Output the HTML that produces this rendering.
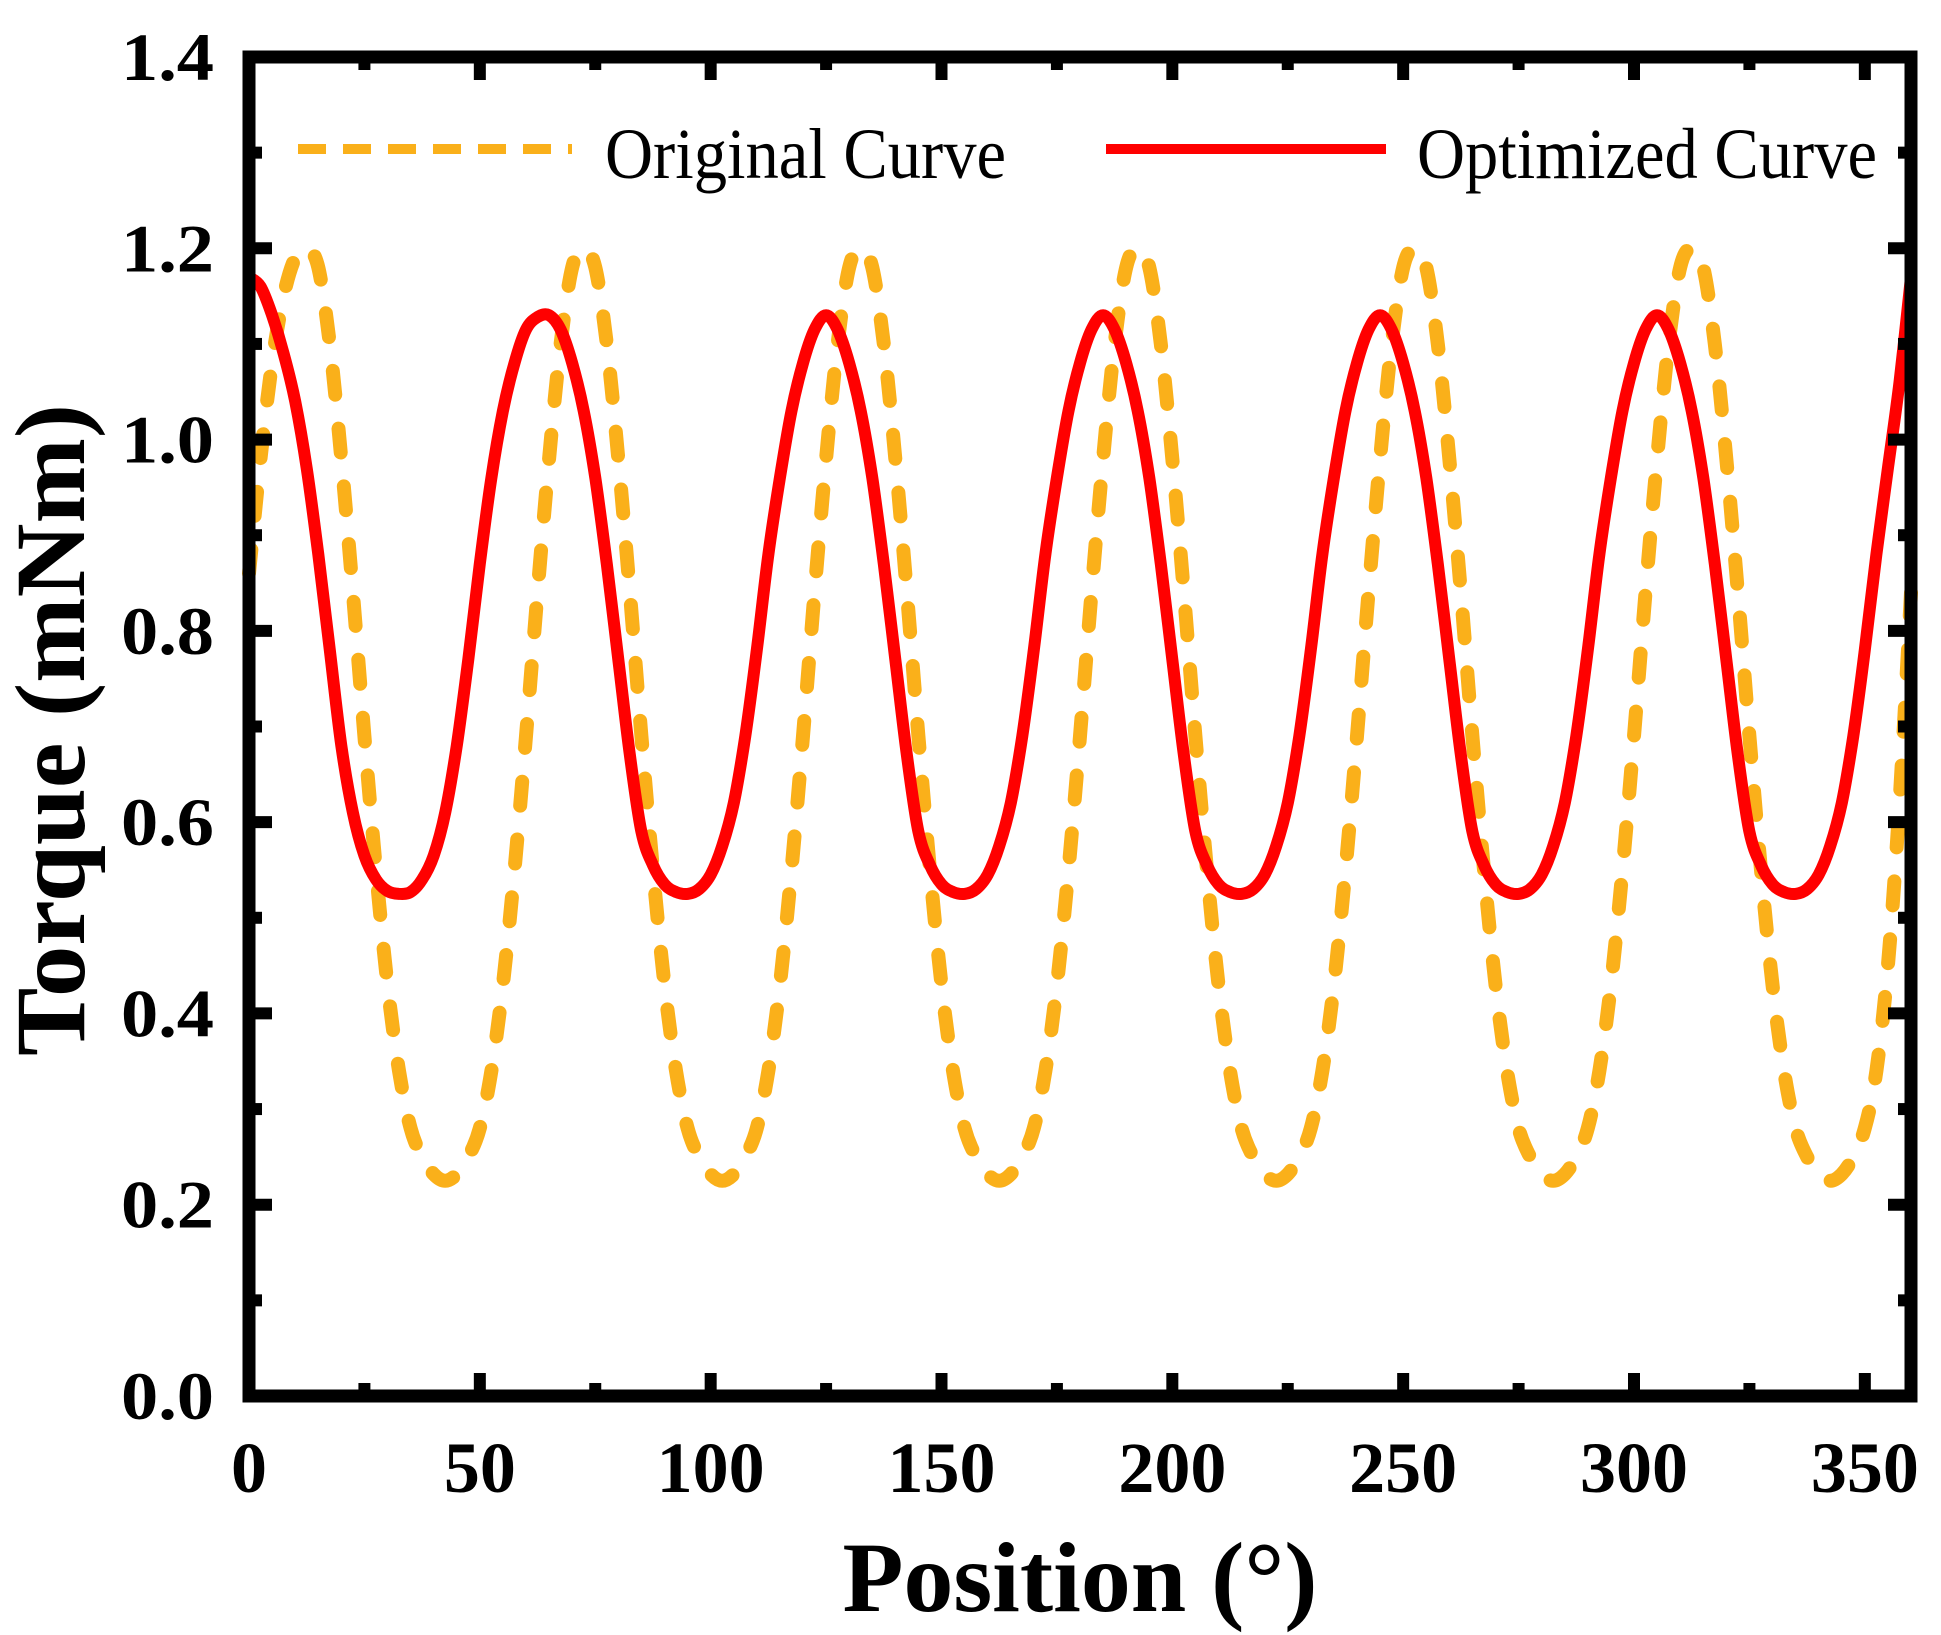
<!DOCTYPE html>
<html><head><meta charset="utf-8"><style>html,body{margin:0;padding:0;background:#fff;}svg{display:block;}</style></head>
<body>
<svg id="chart" width="1941" height="1635" viewBox="0 0 1941 1635" xmlns="http://www.w3.org/2000/svg" font-family="'Liberation Serif', serif">
<g id="curves"></g>
<g id="axes"></g>
<g>
  <line x1="298" y1="149" x2="572" y2="149" stroke="#FAB01A" stroke-width="10" stroke-dasharray="28 17"/>
  <text x="605" y="178" font-size="72" textLength="401" lengthAdjust="spacingAndGlyphs">Original Curve</text>
  <line x1="1106" y1="149" x2="1386" y2="149" stroke="#FF0000" stroke-width="10"/>
  <text x="1417" y="178" font-size="72" textLength="460" lengthAdjust="spacingAndGlyphs">Optimized Curve</text>
</g>
<text x="1080" y="1611" font-size="100" font-weight="bold" text-anchor="middle" textLength="475" lengthAdjust="spacingAndGlyphs">Position (°)</text>
<text transform="translate(84,730) rotate(-90)" x="0" y="0" font-size="100" font-weight="bold" text-anchor="middle" textLength="652" lengthAdjust="spacingAndGlyphs">Torque (mNm)</text>
</svg>
<script>
const positions = [];
for (let i = 0; i <= 144; i++) positions.push(i * 2.5);
const originalTorque = [0.86,0.98,1.08,1.15,1.19,1.2,
1.18,1.1,0.98,0.84,0.69,0.55,0.43,0.34,0.28,0.25,0.232,0.225,0.232,0.25,0.28,0.34,0.43,0.55,0.69,0.84,0.98,1.1,1.18,1.2,
1.18,1.1,0.98,0.84,0.69,0.55,0.43,0.34,0.28,0.25,0.232,0.225,0.232,0.25,0.28,0.34,0.43,0.55,0.69,0.84,0.98,1.1,1.18,1.2,
1.18,1.1,0.98,0.84,0.69,0.55,0.43,0.34,0.28,0.25,0.232,0.225,0.232,0.25,0.28,0.34,0.43,0.55,0.69,0.84,0.98,1.1,1.18,1.2,
1.18,1.1,0.98,0.84,0.69,0.55,0.43,0.34,0.28,0.25,0.232,0.225,0.232,0.25,0.28,0.34,0.43,0.55,0.69,0.84,0.98,1.1,1.18,1.2,
1.18,1.1,0.98,0.84,0.69,0.55,0.43,0.34,0.28,0.25,0.232,0.225,0.232,0.25,0.28,0.34,0.43,0.55,0.69,0.84,0.98,1.1,1.18,1.2,
1.18,1.1,0.98,0.84,0.69,0.55,0.43,0.34,0.28,0.25,0.232,0.225,0.232,0.25,0.28,0.34,0.45,0.62,0.84];
const optimizedTorque = [1.17,1.16,1.13,1.09,1.04,0.97,0.88,0.78,0.68,0.61,0.565,0.54,0.528,0.525,0.527,0.54,0.565,0.61,0.68,0.77,0.87,0.96,1.03,1.08,1.115,1.128,1.13,
1.115,1.08,1.03,0.96,0.87,0.77,0.67,0.59,0.555,0.535,0.527,0.525,0.53,0.545,0.575,0.62,0.69,0.78,0.88,0.96,1.03,1.08,1.115,1.13,
1.115,1.08,1.03,0.96,0.87,0.77,0.67,0.59,0.555,0.535,0.527,0.525,0.53,0.545,0.575,0.62,0.69,0.78,0.88,0.96,1.03,1.08,1.115,1.13,
1.115,1.08,1.03,0.96,0.87,0.77,0.67,0.59,0.555,0.535,0.527,0.525,0.53,0.545,0.575,0.62,0.69,0.78,0.88,0.96,1.03,1.08,1.115,1.13,
1.115,1.08,1.03,0.96,0.87,0.77,0.67,0.59,0.555,0.535,0.527,0.525,0.53,0.545,0.575,0.62,0.69,0.78,0.88,0.96,1.03,1.08,1.115,1.13,
1.115,1.08,1.03,0.96,0.87,0.77,0.67,0.59,0.555,0.535,0.527,0.525,0.53,0.545,0.575,0.62,0.69,0.78,0.88,0.97,1.06,1.17];
const xTicks = [0,50,100,150,200,250,300,350];
const yTicks = [0.0,0.2,0.4,0.6,0.8,1.0,1.2,1.4];
const yTickLabels = ["0.0","0.2","0.4","0.6","0.8","1.0","1.2","1.4"];

const X0=249,X1=1911,Y0=1396,Y1=57;
function sx(v){return X0+(v-0)/(360-0)*(X1-X0);}
function sy(v){return Y0-(v-0)/(1.4-0)*(Y0-Y1);}
const NS="http://www.w3.org/2000/svg";
function mk(tag,attrs,parent){const e=document.createElementNS(NS,tag);for(const k in attrs)e.setAttribute(k,attrs[k]);parent.appendChild(e);return e;}

function pathFrom(xs,ys){
  const p=xs.map((x,i)=>[sx(x),sy(ys[i])]);
  let d="M"+p[0][0].toFixed(1)+","+p[0][1].toFixed(1);
  for(let i=0;i<p.length-1;i++){
    const a=p[Math.max(0,i-1)],b=p[i],c=p[i+1],e=p[Math.min(p.length-1,i+2)];
    const c1=[b[0]+(c[0]-a[0])/6,b[1]+(c[1]-a[1])/6];
    const c2=[c[0]-(e[0]-b[0])/6,c[1]-(e[1]-b[1])/6];
    d+=" C"+c1[0].toFixed(1)+","+c1[1].toFixed(1)+" "+c2[0].toFixed(1)+","+c2[1].toFixed(1)+" "+c[0].toFixed(1)+","+c[1].toFixed(1);
  }
  return d;
}
const curves=document.getElementById('curves');
const origPath=mk('path',{d:pathFrom(positions,originalTorque),fill:"none",stroke:"#FAB01A","stroke-width":14,"stroke-dasharray":"24 34","stroke-linecap":"round"},curves);


const optPath=mk('path',{d:pathFrom(positions,optimizedTorque),fill:"none",stroke:"#FF0000","stroke-width":12,"stroke-linejoin":"round"},curves);



const axes=document.getElementById('axes');
const frame=mk('rect',{x:X0,y:Y1,width:X1-X0,height:Y0-Y1,fill:"none",stroke:"#000","stroke-width":13},axes);


const MAJ=23,MIN=13,TW=12;
for(let v=0;v<=360;v+=25){
  const x=sx(v),len=(v%50===0)?MAJ:MIN;
  const t1=mk('line',{x1:x,y1:Y0,x2:x,y2:Y0-len,stroke:"#000","stroke-width":TW},axes);
  
  
  const t2=mk('line',{x1:x,y1:Y1,x2:x,y2:Y1+len,stroke:"#000","stroke-width":TW},axes);
  
  
}
for(let i=0;i<=14;i++){
  const v=i/10,y=sy(v),len=(i%2===0)?MAJ:MIN;
  const t1=mk('line',{x1:X0,y1:y,x2:X0+len,y2:y,stroke:"#000","stroke-width":TW},axes);
  
  
  const t2=mk('line',{x1:X1,y1:y,x2:X1-len,y2:y,stroke:"#000","stroke-width":TW},axes);
  
  
}
xTicks.forEach(v=>{
  const t=mk('text',{x:sx(v),y:1492,"font-size":72,"font-weight":"bold","text-anchor":"middle"},axes);
  t.textContent=String(v);
  
  
});
yTicks.forEach((v,i)=>{
  const t=mk('text',{x:214,y:sy(v)+23,"font-size":68,"font-weight":"bold","text-anchor":"end",textLength:93,lengthAdjust:"spacingAndGlyphs"},axes);
  t.textContent=yTickLabels[i];
  
  
});
</script>
</body></html>
